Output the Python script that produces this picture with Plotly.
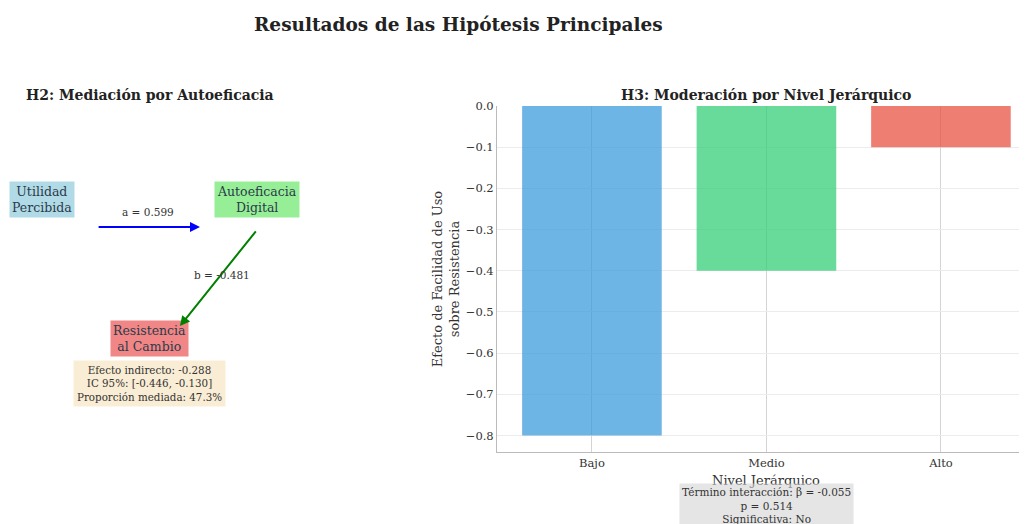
import plotly.graph_objects as go

# ---- data ----
niveles = ["Bajo", "Medio", "Alto"]
efectos = [-0.80, -0.40, -0.10]
colores_barras = ["#3498db", "#2ecc71", "#e74c3c"]
y_ticks = [0.0, -0.1, -0.2, -0.3, -0.4, -0.5, -0.6, -0.7, -0.8]

nodos = ["Utilidad<br>Percibida", "Autoeficacia<br>Digital", "Resistencia<br>al Cambio"]
nodos_x = [1.13, 8.30, 4.73]
nodos_y = [7.31, 7.31, 3.29]
nodos_color = ["rgba(173,216,230,0.95)", "rgba(144,238,144,0.95)", "rgba(240,128,128,0.95)"]

coef_a = 0.599
coef_b = -0.481
efecto_indirecto = -0.288
ic_bajo, ic_alto = -0.446, -0.130
proporcion = 47.3
beta_inter = -0.055
p_inter = 0.514

W, H = 1027, 524
OFF = 8  # page body margin
FONT = "DejaVu Serif"

def px(v):
    return (v - OFF) / W

def py(v):
    return 1 - (v - OFF) / H

fig = go.Figure()

fig.add_trace(go.Bar(
    x=niveles, y=efectos, width=0.8,
    marker=dict(color=colores_barras, opacity=0.72, line=dict(width=0)),
    xaxis="x", yaxis="y", showlegend=False,
))

# invisible trace for the diagram axes
fig.add_trace(go.Scatter(x=[0, 10], y=[0, 10], mode="markers",
                         marker=dict(opacity=0), xaxis="x2", yaxis="y2",
                         showlegend=False, hoverinfo="skip"))

C = dict(xanchor="center", yanchor="middle")
ann = []
# nodes
for t, x, y, c in zip(nodos, nodos_x, nodos_y, nodos_color):
    ann.append(dict(x=x, y=y, xref="x2", yref="y2", text=t, showarrow=False,
                    bgcolor=c, borderpad=2, font=dict(family=FONT, size=12.5, color="#2b3a4a"), **C))
# arrow a
ann.append(dict(x=6.40, y=6.50, ax=2.97, ay=6.50, xref="x2", yref="y2", axref="x2", ayref="y2",
                text="", showarrow=True, arrowhead=2, arrowsize=1, arrowwidth=2, arrowcolor="blue"))
ann.append(dict(x=4.67, y=6.94, xref="x2", yref="y2", text=f"a = {coef_a:.3f}", showarrow=False,
                font=dict(family=FONT, size=10.5, color="#333"), **C))
# arrow b
ann.append(dict(x=5.73, y=3.64, ax=8.30, ay=6.42, xref="x2", yref="y2", axref="x2", ayref="y2",
                text="", showarrow=True, arrowhead=2, arrowsize=1, arrowwidth=2, arrowcolor="green"))
ann.append(dict(x=7.13, y=5.12, xref="x2", yref="y2", text=f"b = {coef_b:.3f}", showarrow=False,
                font=dict(family=FONT, size=10.5, color="#333"), **C))
# indirect effect box
ann.append(dict(x=4.73, y=1.97, xref="x2", yref="y2",
                text=(f"Efecto indirecto: {efecto_indirecto:.3f}<br>"
                      f"IC 95%: [{ic_bajo:.3f}, {ic_alto:.3f}]<br>"
                      f"Proporción mediada: {proporcion:.1f}%"),
                showarrow=False, bgcolor="rgba(245,222,179,0.55)", borderpad=3,
                font=dict(family=FONT, size=10.3, color="#333"), **C))
# subplot titles
ann.append(dict(x=px(150), y=py(95), xref="paper", yref="paper", text="<b>H2: Mediación por Autoeficacia</b>",
                showarrow=False, font=dict(family=FONT, size=14, color="#222"), **C))
ann.append(dict(x=px(766), y=py(95), xref="paper", yref="paper", text="<b>H3: Moderación por Nivel Jerárquico</b>",
                showarrow=False, font=dict(family=FONT, size=14, color="#222"), **C))
# main title
ann.append(dict(x=px(458), y=py(24), xref="paper", yref="paper", text="<b>Resultados de las Hipótesis Principales</b>",
                showarrow=False, font=dict(family=FONT, size=18.5, color="#222"), **C))
# x axis title
ann.append(dict(x=px(766), y=py(480), xref="paper", yref="paper", text="Nivel Jerárquico",
                showarrow=False, font=dict(family=FONT, size=13, color="#333"), **C))
# interaction box
ann.append(dict(x=px(766), y=py(505), xref="paper", yref="paper",
                text=(f"Término interacción: β = {beta_inter:.3f}<br>"
                      f"p = {p_inter:.3f}<br>Significativa: No"),
                showarrow=False, bgcolor="rgba(211,211,211,0.6)", borderpad=2,
                font=dict(family=FONT, size=10.5, color="#333"), **C))

fig.update_layout(
    width=W, height=H,
    margin=dict(l=0, r=0, t=0, b=0),
    paper_bgcolor="white", plot_bgcolor="white",
    font=dict(family=FONT, size=11, color="#333"),
    bargap=0.2,
    xaxis=dict(domain=[px(497), 1.0], range=[-0.544, 2.539], type="category",
               showgrid=True, gridcolor="#d4d4d4", gridwidth=1,
               showline=True, linecolor="#bbbbbb", linewidth=1,
               ticks="", tickfont=dict(size=11.5, color="#333"), automargin=False,
               layer="above traces", zeroline=False),
    yaxis=dict(domain=[py(452), py(106)], range=[-0.84, 0.0], tickvals=y_ticks,
               tickformat=".1f", showgrid=True, gridcolor="#ececec", gridwidth=1,
               showline=True, linecolor="#bbbbbb", linewidth=1, zeroline=False,
               ticks="", tickfont=dict(size=11.5, color="#333"), automargin=False,
               title=dict(text="Efecto de Facilidad de Uso<br>sobre Resistencia",
                          font=dict(size=13, color="#333"), standoff=3)),
    xaxis2=dict(domain=[0, 300 / W], range=[0, 10], visible=False, anchor="y2"),
    yaxis2=dict(domain=[py(452), py(106)], range=[0, 10], visible=False, anchor="x2"),
    annotations=ann,
)

fig.write_html("out.html")
